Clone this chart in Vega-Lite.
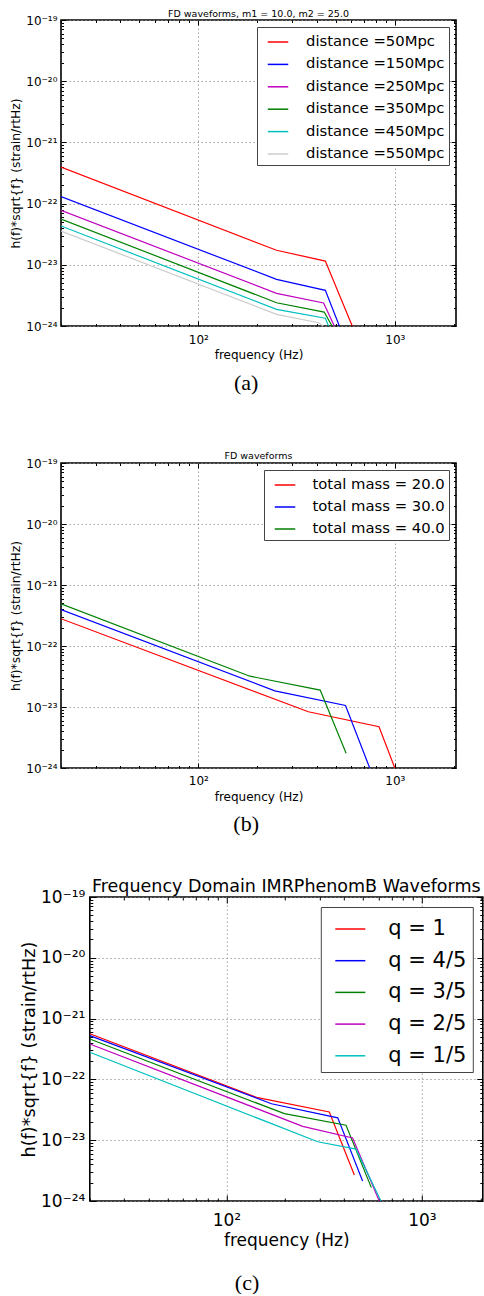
{
  "$schema": "https://vega.github.io/schema/vega-lite/v6.json",
  "background": "white",
  "padding": {"left": 7, "top": 7, "right": 0, "bottom": 0},
  "datasets": {
    "a": [
      {"s": "distance =50Mpc", "f": 20, "h": 3.96e-22}, {"s": "distance =50Mpc", "f": 250, "h": 1.73e-23}, {"s": "distance =50Mpc", "f": 443, "h": 1.15e-23}, {"s": "distance =50Mpc", "f": 607, "h": 1e-24},
      {"s": "distance =150Mpc", "f": 20, "h": 1.30e-22}, {"s": "distance =150Mpc", "f": 250, "h": 5.79e-24}, {"s": "distance =150Mpc", "f": 443, "h": 3.83e-24}, {"s": "distance =150Mpc", "f": 522, "h": 1e-24},
      {"s": "distance =250Mpc", "f": 20, "h": 7.78e-23}, {"s": "distance =250Mpc", "f": 250, "h": 3.42e-24}, {"s": "distance =250Mpc", "f": 434, "h": 2.38e-24}, {"s": "distance =250Mpc", "f": 492, "h": 1e-24},
      {"s": "distance =350Mpc", "f": 20, "h": 5.6e-23}, {"s": "distance =350Mpc", "f": 250, "h": 2.4e-24}, {"s": "distance =350Mpc", "f": 437, "h": 1.69e-24}, {"s": "distance =350Mpc", "f": 479, "h": 1e-24},
      {"s": "distance =450Mpc", "f": 20, "h": 4.31e-23}, {"s": "distance =450Mpc", "f": 250, "h": 1.87e-24}, {"s": "distance =450Mpc", "f": 443, "h": 1.34e-24}, {"s": "distance =450Mpc", "f": 460, "h": 1e-24},
      {"s": "distance =550Mpc", "f": 20, "h": 3.56e-23}, {"s": "distance =550Mpc", "f": 250, "h": 1.55e-24}, {"s": "distance =550Mpc", "f": 409, "h": 1.13e-24}, {"s": "distance =550Mpc", "f": 432, "h": 1e-24}
    ],
    "b": [
      {"s": "total mass = 20.0", "f": 20, "h": 2.8e-22}, {"s": "total mass = 20.0", "f": 363, "h": 8.36e-24}, {"s": "total mass = 20.0", "f": 831, "h": 4.75e-24}, {"s": "total mass = 20.0", "f": 1000, "h": 1e-24},
      {"s": "total mass = 30.0", "f": 20, "h": 3.94e-22}, {"s": "total mass = 30.0", "f": 245, "h": 1.84e-23}, {"s": "total mass = 30.0", "f": 561, "h": 1.06e-23}, {"s": "total mass = 30.0", "f": 745, "h": 1e-24},
      {"s": "total mass = 40.0", "f": 20, "h": 4.93e-22}, {"s": "total mass = 40.0", "f": 183, "h": 3.2e-23}, {"s": "total mass = 40.0", "f": 417, "h": 1.89e-23}, {"s": "total mass = 40.0", "f": 565, "h": 1.75e-24}
    ],
    "c": [
      {"s": "q = 1", "f": 20, "h": 5.64e-22}, {"s": "q = 1", "f": 144.5, "h": 5.0e-23}, {"s": "q = 1", "f": 336, "h": 2.92e-23}, {"s": "q = 1", "f": 451, "h": 2.67e-24},
      {"s": "q = 4/5", "f": 20, "h": 5.24e-22}, {"s": "q = 4/5", "f": 170, "h": 3.98e-23}, {"s": "q = 4/5", "f": 371, "h": 2.33e-23}, {"s": "q = 4/5", "f": 497, "h": 2.13e-24},
      {"s": "q = 3/5", "f": 20, "h": 4.61e-22}, {"s": "q = 3/5", "f": 198, "h": 2.73e-23}, {"s": "q = 3/5", "f": 409, "h": 1.76e-23}, {"s": "q = 3/5", "f": 551, "h": 1.66e-24},
      {"s": "q = 2/5", "f": 20, "h": 3.83e-22}, {"s": "q = 2/5", "f": 245.6, "h": 1.69e-23}, {"s": "q = 2/5", "f": 442, "h": 1.09e-23}, {"s": "q = 2/5", "f": 605, "h": 1e-24},
      {"s": "q = 1/5", "f": 20, "h": 2.8e-22}, {"s": "q = 1/5", "f": 293, "h": 9.42e-24}, {"s": "q = 1/5", "f": 460, "h": 7.13e-24}, {"s": "q = 1/5", "f": 617, "h": 1e-24}
    ]
  },
  "vconcat": [
    {
      "vconcat": [
        {
          "hconcat": [
            {"width": 1, "height": 1, "view": {"stroke": null}, "data": {"values": [{}]}, "mark": {"type": "text", "text": ""}, "encoding": {}},
            {
              "width": 395, "height": 306,
              "title": {"text": "FD waveforms, m1 = 10.0, m2 = 25.0", "fontSize": 9.5, "frame": "group", "anchor": "middle", "baseline": "alphabetic", "offset": -12},
              "data": {"name": "a"},
              "layer": [
                {
                  "mark": {"type": "line", "strokeWidth": 1.2, "clip": true},
                  "encoding": {
                    "x": {"field": "f", "type": "quantitative", "scale": {"type": "log", "domain": [20, 2048], "nice": false},
                      "axis": {"title": "frequency (Hz)", "values": [20,30,40,50,60,70,80,90,100,200,300,400,500,600,700,800,900,1000,2000],
                        "labelExpr": "datum.value == 100 ? '10²' : datum.value == 1000 ? '10³' : ''",
                        "grid": true, "gridOpacity": {"condition": {"test": "datum.value == 100 || datum.value == 1000", "value": 1}, "value": 0},
                        "tickSize": {"condition": {"test": "datum.value == 100 || datum.value == 1000", "value": -5}, "value": -2.5},
                        "labelFontSize": 12, "labelBaseline": "alphabetic", "labelPadding": 22.3,
                        "titleFontSize": 12, "titleBaseline": "alphabetic", "titleY": 32.3}},
                    "y": {"field": "h", "type": "quantitative", "scale": {"type": "log", "domain": [1e-24, 1e-19], "nice": false},
                      "axis": {"title": "h(f)*sqrt{f} (strain/rtHz)", "values": [1e-24,2e-24,3e-24,4e-24,5e-24,6e-24,7e-24,8e-24,9e-24,1e-23,2e-23,3e-23,4e-23,5e-23,6e-23,7e-23,8e-23,9e-23,1e-22,2e-22,3e-22,4e-22,5e-22,6e-22,7e-22,8e-22,9e-22,1e-21,2e-21,3e-21,4e-21,5e-21,6e-21,7e-21,8e-21,9e-21,1e-20,2e-20,3e-20,4e-20,5e-20,6e-20,7e-20,8e-20,9e-20,1e-19],
                        "labelExpr": "abs(log(datum.value)/LN10 - round(log(datum.value)/LN10)) > 0.01 ? '' : round(log(datum.value)/LN10) == -19 ? '10⁻¹⁹' : round(log(datum.value)/LN10) == -20 ? '10⁻²⁰' : round(log(datum.value)/LN10) == -21 ? '10⁻²¹' : round(log(datum.value)/LN10) == -22 ? '10⁻²²' : round(log(datum.value)/LN10) == -23 ? '10⁻²³' : '10⁻²⁴'",
                        "grid": true, "gridOpacity": {"condition": {"test": "abs(log(datum.value)/LN10 - round(log(datum.value)/LN10)) < 0.01", "value": 1}, "value": 0},
                        "tickSize": {"condition": {"test": "abs(log(datum.value)/LN10 - round(log(datum.value)/LN10)) < 0.01", "value": -5}, "value": -2.5},
                        "labelFontSize": 12, "labelPadding": 9,
                        "titleFontSize": 12.3, "titleBaseline": "alphabetic", "titleX": -42}},
                    "color": {"field": "s", "type": "nominal",
                      "scale": {"domain": ["distance =50Mpc", "distance =150Mpc", "distance =250Mpc", "distance =350Mpc", "distance =450Mpc", "distance =550Mpc"],
                        "range": ["#ff0000", "#0000ff", "#bf00bf", "#008000", "#00bfbf", "#cccccc"]},
                      "legend": {"orient": "top-right", "offset": 7, "title": null, "symbolType": "stroke", "symbolSize": 420, "symbolStrokeWidth": 1.5,
                        "labelFontSize": 14.8, "padding": 4, "rowPadding": 4.4, "symbolOffset": 6, "labelOffset": 17}}
                  }
                },
                {
                  "mark": {"type": "line", "strokeOpacity": 0, "clip": true},
                  "encoding": {
                    "x": {"field": "f", "type": "quantitative", "scale": {"type": "log", "domain": [20, 2048], "nice": false},
                      "axis": {"orient": "top", "title": null, "labels": false, "grid": false, "values": [20,30,40,50,60,70,80,90,100,200,300,400,500,600,700,800,900,1000,2000],
                        "tickSize": {"condition": {"test": "datum.value == 100 || datum.value == 1000", "value": -5}, "value": -2.5}}},
                    "y": {"field": "h", "type": "quantitative", "scale": {"type": "log", "domain": [1e-24, 1e-19], "nice": false},
                      "axis": {"orient": "right", "title": null, "labels": false, "grid": false, "values": [1e-24,2e-24,3e-24,4e-24,5e-24,6e-24,7e-24,8e-24,9e-24,1e-23,2e-23,3e-23,4e-23,5e-23,6e-23,7e-23,8e-23,9e-23,1e-22,2e-22,3e-22,4e-22,5e-22,6e-22,7e-22,8e-22,9e-22,1e-21,2e-21,3e-21,4e-21,5e-21,6e-21,7e-21,8e-21,9e-21,1e-20,2e-20,3e-20,4e-20,5e-20,6e-20,7e-20,8e-20,9e-20,1e-19],
                        "tickSize": {"condition": {"test": "abs(log(datum.value)/LN10 - round(log(datum.value)/LN10)) < 0.01", "value": -5}, "value": -2.5}}},
                    "detail": {"field": "s", "type": "nominal"}
                  }
                }
              ],
              "resolve": {"axis": {"x": "independent", "y": "independent"}}
            }
          ],
          "spacing": 0,
          "resolve": {"scale": {"color": "independent"}, "legend": {"color": "independent"}},
          "title": {"text": "(a)", "orient": "bottom", "font": "Liberation Serif", "fontSize": 22, "anchor": "middle", "frame": "bounds", "baseline": "alphabetic", "offset": 29, "dx": 14}
        },
        {
          "hconcat": [
            {"width": 1, "height": 1, "view": {"stroke": null}, "data": {"values": [{}]}, "mark": {"type": "text", "text": ""}, "encoding": {}},
            {
              "width": 395, "height": 305,
              "title": {"text": "FD waveforms", "fontSize": 9.5, "frame": "group", "anchor": "middle", "baseline": "alphabetic", "offset": -11.8},
              "data": {"name": "b"},
              "layer": [
                {
                  "mark": {"type": "line", "strokeWidth": 1.2, "clip": true},
                  "encoding": {
                    "x": {"field": "f", "type": "quantitative", "scale": {"type": "log", "domain": [20, 2048], "nice": false},
                      "axis": {"title": "frequency (Hz)", "values": [20,30,40,50,60,70,80,90,100,200,300,400,500,600,700,800,900,1000,2000],
                        "labelExpr": "datum.value == 100 ? '10²' : datum.value == 1000 ? '10³' : ''",
                        "grid": true, "gridOpacity": {"condition": {"test": "datum.value == 100 || datum.value == 1000", "value": 1}, "value": 0},
                        "tickSize": {"condition": {"test": "datum.value == 100 || datum.value == 1000", "value": -5}, "value": -2.5},
                        "labelFontSize": 12, "labelBaseline": "alphabetic", "labelPadding": 21.6,
                        "titleFontSize": 12, "titleBaseline": "alphabetic", "titleY": 32.3}},
                    "y": {"field": "h", "type": "quantitative", "scale": {"type": "log", "domain": [1e-24, 1e-19], "nice": false},
                      "axis": {"title": "h(f)*sqrt{f} (strain/rtHz)", "values": [1e-24,2e-24,3e-24,4e-24,5e-24,6e-24,7e-24,8e-24,9e-24,1e-23,2e-23,3e-23,4e-23,5e-23,6e-23,7e-23,8e-23,9e-23,1e-22,2e-22,3e-22,4e-22,5e-22,6e-22,7e-22,8e-22,9e-22,1e-21,2e-21,3e-21,4e-21,5e-21,6e-21,7e-21,8e-21,9e-21,1e-20,2e-20,3e-20,4e-20,5e-20,6e-20,7e-20,8e-20,9e-20,1e-19],
                        "labelExpr": "abs(log(datum.value)/LN10 - round(log(datum.value)/LN10)) > 0.01 ? '' : round(log(datum.value)/LN10) == -19 ? '10⁻¹⁹' : round(log(datum.value)/LN10) == -20 ? '10⁻²⁰' : round(log(datum.value)/LN10) == -21 ? '10⁻²¹' : round(log(datum.value)/LN10) == -22 ? '10⁻²²' : round(log(datum.value)/LN10) == -23 ? '10⁻²³' : '10⁻²⁴'",
                        "grid": true, "gridOpacity": {"condition": {"test": "abs(log(datum.value)/LN10 - round(log(datum.value)/LN10)) < 0.01", "value": 1}, "value": 0},
                        "tickSize": {"condition": {"test": "abs(log(datum.value)/LN10 - round(log(datum.value)/LN10)) < 0.01", "value": -5}, "value": -2.5},
                        "labelFontSize": 12, "labelPadding": 9,
                        "titleFontSize": 12.3, "titleBaseline": "alphabetic", "titleX": -42}},
                    "color": {"field": "s", "type": "nominal",
                      "scale": {"domain": ["total mass = 20.0", "total mass = 30.0", "total mass = 40.0"],
                        "range": ["#ff0000", "#0000ff", "#008000"]},
                      "legend": {"orient": "top-right", "offset": 7, "title": null, "symbolType": "stroke", "symbolSize": 420, "symbolStrokeWidth": 1.5,
                        "labelFontSize": 14.8, "padding": 4, "rowPadding": 4, "symbolOffset": 6, "labelOffset": 16.5}}
                  }
                },
                {
                  "mark": {"type": "line", "strokeOpacity": 0, "clip": true},
                  "encoding": {
                    "x": {"field": "f", "type": "quantitative", "scale": {"type": "log", "domain": [20, 2048], "nice": false},
                      "axis": {"orient": "top", "title": null, "labels": false, "grid": false, "values": [20,30,40,50,60,70,80,90,100,200,300,400,500,600,700,800,900,1000,2000],
                        "tickSize": {"condition": {"test": "datum.value == 100 || datum.value == 1000", "value": -5}, "value": -2.5}}},
                    "y": {"field": "h", "type": "quantitative", "scale": {"type": "log", "domain": [1e-24, 1e-19], "nice": false},
                      "axis": {"orient": "right", "title": null, "labels": false, "grid": false, "values": [1e-24,2e-24,3e-24,4e-24,5e-24,6e-24,7e-24,8e-24,9e-24,1e-23,2e-23,3e-23,4e-23,5e-23,6e-23,7e-23,8e-23,9e-23,1e-22,2e-22,3e-22,4e-22,5e-22,6e-22,7e-22,8e-22,9e-22,1e-21,2e-21,3e-21,4e-21,5e-21,6e-21,7e-21,8e-21,9e-21,1e-20,2e-20,3e-20,4e-20,5e-20,6e-20,7e-20,8e-20,9e-20,1e-19],
                        "tickSize": {"condition": {"test": "abs(log(datum.value)/LN10 - round(log(datum.value)/LN10)) < 0.01", "value": -5}, "value": -2.5}}},
                    "detail": {"field": "s", "type": "nominal"}
                  }
                }
              ],
              "resolve": {"axis": {"x": "independent", "y": "independent"}}
            }
          ],
          "spacing": 0,
          "resolve": {"scale": {"color": "independent"}, "legend": {"color": "independent"}},
          "title": {"text": "(b)", "orient": "bottom", "font": "Liberation Serif", "fontSize": 22, "anchor": "middle", "frame": "bounds", "baseline": "alphabetic", "offset": 28, "dx": 14}
        }
      ],
      "spacing": 55,
      "resolve": {"scale": {"color": "independent"}, "legend": {"color": "independent"}}
    },
    {
      "hconcat": [
        {"width": 1, "height": 1, "view": {"stroke": null}, "data": {"values": [{}]}, "mark": {"type": "text", "text": ""}, "encoding": {}},
        {
          "width": 393, "height": 304,
          "title": {"text": "Frequency Domain IMRPhenomB Waveforms", "fontSize": 17.5, "frame": "group", "anchor": "middle", "baseline": "alphabetic", "offset": -21.8},
          "data": {"name": "c"},
          "layer": [
            {
              "mark": {"type": "line", "strokeWidth": 1.2, "clip": true},
              "encoding": {
                "x": {"field": "f", "type": "quantitative", "scale": {"type": "log", "domain": [20, 2048], "nice": false},
                  "axis": {"title": "frequency (Hz)", "values": [20,30,40,50,60,70,80,90,100,200,300,400,500,600,700,800,900,1000,2000],
                    "labelExpr": "datum.value == 100 ? '10²' : datum.value == 1000 ? '10³' : ''",
                    "grid": true, "gridOpacity": {"condition": {"test": "datum.value == 100 || datum.value == 1000", "value": 1}, "value": 0},
                    "tickSize": {"condition": {"test": "datum.value == 100 || datum.value == 1000", "value": -6}, "value": -3},
                    "labelFontSize": 17, "labelBaseline": "alphabetic", "labelPadding": 30.7,
                    "titleFontSize": 17, "titleBaseline": "alphabetic", "titleY": 44}},
                "y": {"field": "h", "type": "quantitative", "scale": {"type": "log", "domain": [1e-24, 1e-19], "nice": false},
                  "axis": {"title": "h(f)*sqrt{f} (strain/rtHz)", "values": [1e-24,2e-24,3e-24,4e-24,5e-24,6e-24,7e-24,8e-24,9e-24,1e-23,2e-23,3e-23,4e-23,5e-23,6e-23,7e-23,8e-23,9e-23,1e-22,2e-22,3e-22,4e-22,5e-22,6e-22,7e-22,8e-22,9e-22,1e-21,2e-21,3e-21,4e-21,5e-21,6e-21,7e-21,8e-21,9e-21,1e-20,2e-20,3e-20,4e-20,5e-20,6e-20,7e-20,8e-20,9e-20,1e-19],
                    "labelExpr": "abs(log(datum.value)/LN10 - round(log(datum.value)/LN10)) > 0.01 ? '' : round(log(datum.value)/LN10) == -19 ? '10⁻¹⁹' : round(log(datum.value)/LN10) == -20 ? '10⁻²⁰' : round(log(datum.value)/LN10) == -21 ? '10⁻²¹' : round(log(datum.value)/LN10) == -22 ? '10⁻²²' : round(log(datum.value)/LN10) == -23 ? '10⁻²³' : '10⁻²⁴'",
                    "grid": true, "gridOpacity": {"condition": {"test": "abs(log(datum.value)/LN10 - round(log(datum.value)/LN10)) < 0.01", "value": 1}, "value": 0},
                    "tickSize": {"condition": {"test": "abs(log(datum.value)/LN10 - round(log(datum.value)/LN10)) < 0.01", "value": -6}, "value": -3},
                    "labelFontSize": 17, "labelPadding": 11,
                    "titleFontSize": 17.7, "titleBaseline": "alphabetic", "titleX": -55}},
                "color": {"field": "s", "type": "nominal",
                  "scale": {"domain": ["q = 1", "q = 4/5", "q = 3/5", "q = 2/5", "q = 1/5"],
                    "range": ["#ff0000", "#0000ff", "#008000", "#bf00bf", "#00bfbf"]},
                  "legend": {"orient": "top-right", "offset": 10, "title": null, "symbolType": "stroke", "symbolSize": 900, "symbolStrokeWidth": 1.5,
                    "labelFontSize": 21, "padding": 6, "rowPadding": 5.7, "symbolOffset": 7.5, "labelOffset": 22}}
              }
            },
            {
              "mark": {"type": "line", "strokeOpacity": 0, "clip": true},
              "encoding": {
                "x": {"field": "f", "type": "quantitative", "scale": {"type": "log", "domain": [20, 2048], "nice": false},
                  "axis": {"orient": "top", "title": null, "labels": false, "grid": false, "values": [20,30,40,50,60,70,80,90,100,200,300,400,500,600,700,800,900,1000,2000],
                    "tickSize": {"condition": {"test": "datum.value == 100 || datum.value == 1000", "value": -6}, "value": -3}}},
                "y": {"field": "h", "type": "quantitative", "scale": {"type": "log", "domain": [1e-24, 1e-19], "nice": false},
                  "axis": {"orient": "right", "title": null, "labels": false, "grid": false, "values": [1e-24,2e-24,3e-24,4e-24,5e-24,6e-24,7e-24,8e-24,9e-24,1e-23,2e-23,3e-23,4e-23,5e-23,6e-23,7e-23,8e-23,9e-23,1e-22,2e-22,3e-22,4e-22,5e-22,6e-22,7e-22,8e-22,9e-22,1e-21,2e-21,3e-21,4e-21,5e-21,6e-21,7e-21,8e-21,9e-21,1e-20,2e-20,3e-20,4e-20,5e-20,6e-20,7e-20,8e-20,9e-20,1e-19],
                    "tickSize": {"condition": {"test": "abs(log(datum.value)/LN10 - round(log(datum.value)/LN10)) < 0.01", "value": -6}, "value": -3}}},
                "detail": {"field": "s", "type": "nominal"}
              }
            }
          ],
          "resolve": {"axis": {"x": "independent", "y": "independent"}}
        }
      ],
      "spacing": 11.8,
      "resolve": {"scale": {"color": "independent"}, "legend": {"color": "independent"}},
      "title": {"text": "(c)", "orient": "bottom", "font": "Liberation Serif", "fontSize": 22, "anchor": "middle", "frame": "bounds", "baseline": "alphabetic", "offset": 41, "dx": 1.5}
    }
  ],
  "spacing": 41,
  "resolve": {"scale": {"color": "independent"}, "legend": {"color": "independent"}},
  "config": {
    "view": {"stroke": "black", "strokeWidth": 1.6},
    "axis": {"labelFont": "DejaVu Sans", "titleFont": "DejaVu Sans", "labelColor": "black", "titleColor": "black", "tickColor": "black", "tickWidth": 1,
      "titleFontWeight": "normal", "domain": false, "labelOverlap": false, "labelFlush": false, "labelBound": false, "minExtent": 0,
      "gridColor": "#8a8a8a", "gridDash": [1.5, 2.5], "gridWidth": 0.8},
    "legend": {"labelFont": "DejaVu Sans", "labelColor": "black", "strokeColor": "#444444", "strokeWidth": 1, "fillColor": "white", "labelLimit": 400},
    "title": {"font": "DejaVu Sans", "fontWeight": "normal", "color": "black"}
  }
}
